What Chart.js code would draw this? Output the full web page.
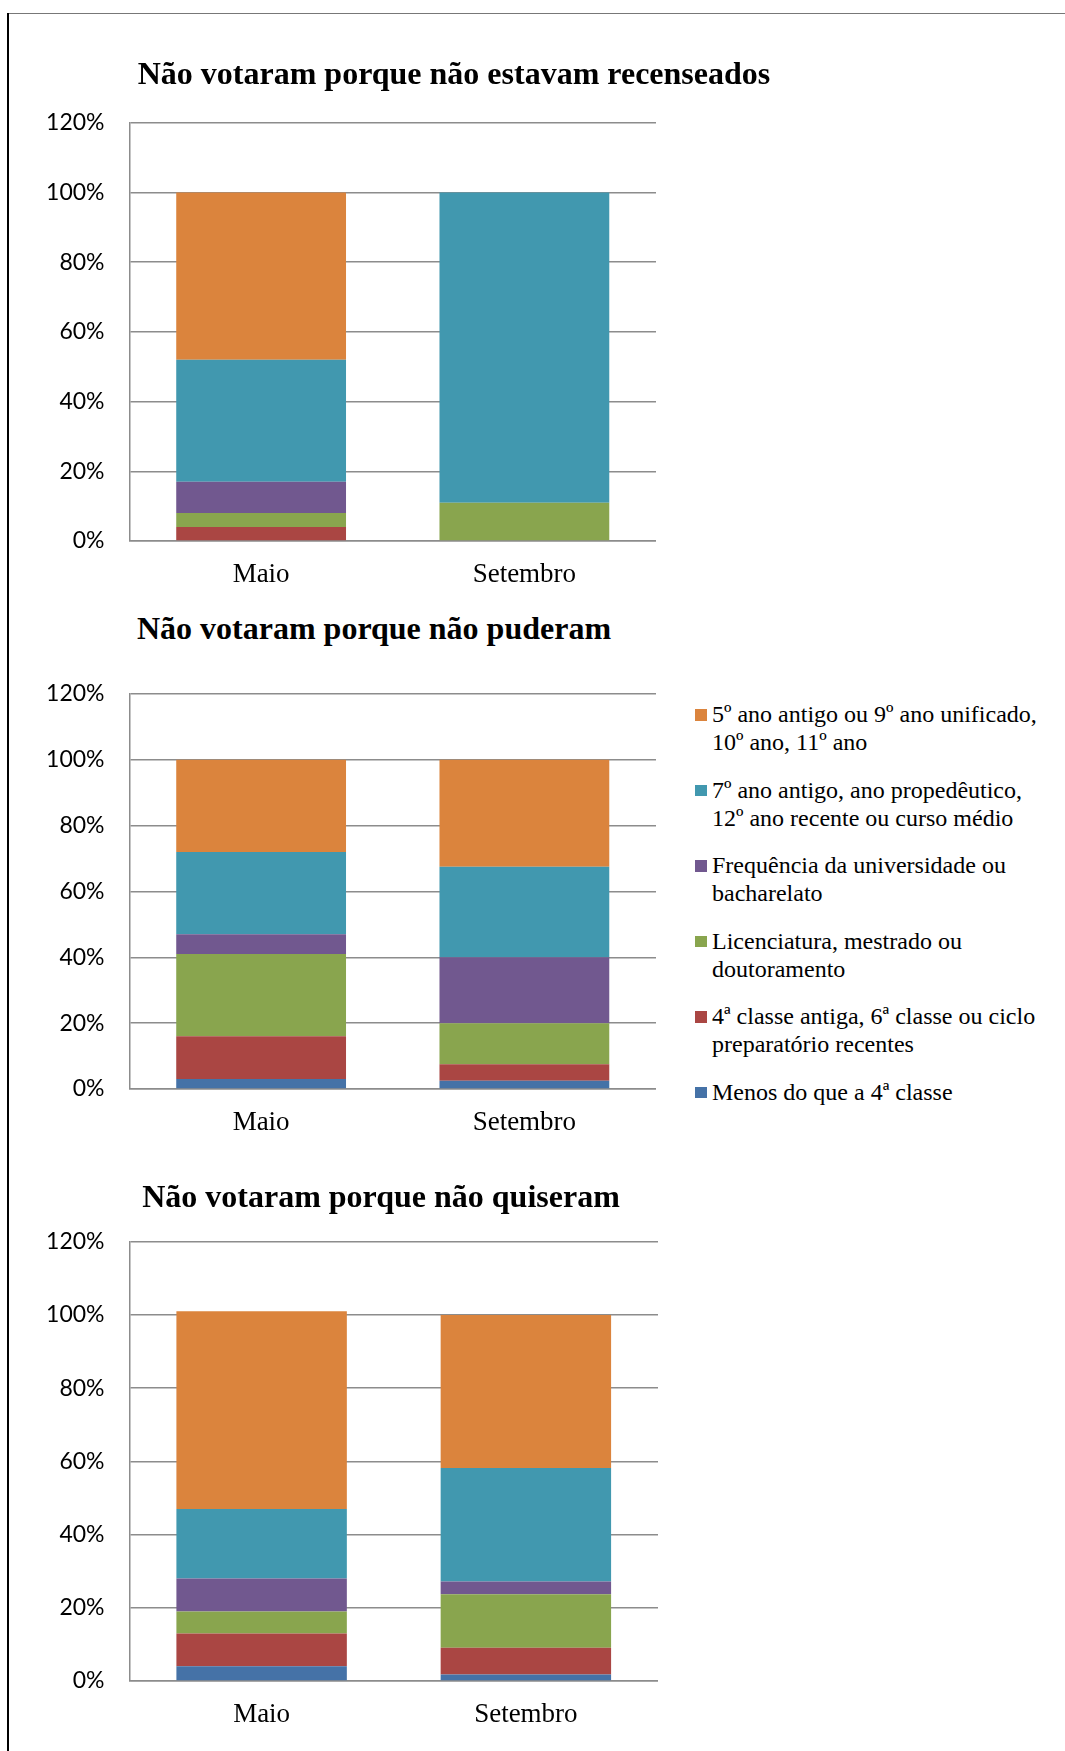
<!DOCTYPE html>
<html>
<head>
<meta charset="utf-8">
<script src="https://cdn.jsdelivr.net/npm/chart.js@4"></script>
<style>
  html, body { margin: 0; padding: 0; background: #fff; }
  body { width: 1065px; height: 1751px; position: relative; overflow: hidden; }
  .frame-top { position: absolute; left: 8px; top: 13px; width: 1057px; height: 1px; background: #777; z-index: 2; }
  .frame-left { position: absolute; left: 7px; top: 13px; width: 2px; height: 1738px; background: #000; z-index: 2; }
  canvas { position: absolute; left: 0; }
  .title {
    position: absolute; white-space: nowrap; transform: translate(-50%, -50%);
    font-family: "Liberation Serif", "Times New Roman", serif; font-weight: bold; font-size: 32px;
    color: #000; z-index: 1;
  }
  #legend { position: absolute; left: 695px; top: 700px; font-family: "Liberation Serif", serif; font-size: 24px; color: #000; }
  .item { position: relative; padding-left: 17px; line-height: 28px; white-space: pre-line; margin-bottom: 19.5px; }
  .item i { position: absolute; left: 0; top: 9px; width: 11.5px; height: 11.5px; }
</style>
</head>
<body>
<div class="frame-top"></div>
<div class="frame-left"></div>

<div class="title" style="left:454px; top:73px">Não votaram porque não estavam recenseados</div>
<canvas id="c1" width="656" height="517" style="top:84px"></canvas>

<div class="title" style="left:374px; top:628px">Não votaram porque não puderam</div>
<canvas id="c2" width="656" height="494" style="top:655px"></canvas>

<div class="title" style="left:381px; top:1196px">Não votaram porque não quiseram</div>
<canvas id="c3" width="658" height="538" style="top:1203px"></canvas>

<div id="legend"></div>

<script>
// categories and series (bottom of the stack first)
const categories = ["Maio", "Setembro"];
const seriesNames = [
  "Menos do que a 4ª classe",
  "4ª classe antiga, 6ª classe ou ciclo\npreparatório recentes",
  "Licenciatura, mestrado ou\ndoutoramento",
  "Frequência da universidade ou\nbacharelato",
  "7º ano antigo, ano propedêutico,\n12º ano recente ou curso médio",
  "5º ano antigo ou 9º ano unificado,\n10º ano, 11º ano"
];
const seriesColors = ["#4572A7", "#AA4643", "#89A54E", "#71588F", "#4198AF", "#DB843D"];
const yTicks = [0, 20, 40, 60, 80, 100, 120];

// percentages per series, same order as seriesNames
const recenseadosMaio = [0, 4, 4, 9, 35, 48];
const recenseadosSetembro = [0, 0, 11, 0, 89, 0];
const puderamMaio = [3, 13, 25, 6, 25, 28];
const puderamSetembro = [2.5, 5, 12.5, 20, 27.5, 32.5];
const quiseramMaio = [4, 9, 6, 9, 19, 54];
const quiseramSetembro = [1.8, 7.3, 14.6, 3.5, 31, 41.8];

const GRID = "#8c8c8c";

function makeChart(id, maio, setembro) {
  const datasets = seriesNames.map((name, i) => ({
    label: name,
    data: [maio[i], setembro[i]],
    backgroundColor: seriesColors[i],
    borderWidth: 0,
    categoryPercentage: 1,
    barPercentage: 0.645
  }));
  return new Chart(document.getElementById(id), {
    type: "bar",
    data: { labels: categories, datasets },
    options: {
      responsive: false,
      animation: false,
      layout: { padding: 0 },
      plugins: { legend: { display: false }, tooltip: { enabled: false }, title: { display: false } },
      scales: {
        x: {
          stacked: true,
          grid: { display: false, drawTicks: false },
          border: { display: true, color: GRID, width: 1.5 },
          ticks: { color: "#000", padding: 18, font: { family: "'Liberation Serif', serif", size: 27 } },
          afterFit: s => { s.height = 60; }
        },
        y: {
          stacked: true,
          min: 0,
          max: 120,
          afterBuildTicks: s => { s.ticks = yTicks.map(v => ({ value: v })); },
          grid: { color: GRID, lineWidth: 1.5, drawTicks: false },
          border: { display: true, color: GRID, width: 1.5 },
          ticks: { color: "#000", padding: 25, font: { family: "Lato, sans-serif", size: 23 }, callback: v => v + "%" },
          afterFit: s => { s.width = 129.5; }
        }
      }
    }
  });
}

makeChart("c1", recenseadosMaio, recenseadosSetembro);
makeChart("c2", puderamMaio, puderamSetembro);
makeChart("c3", quiseramMaio, quiseramSetembro);

// legend, top of the stack first
const legend = document.getElementById("legend");
for (let i = seriesNames.length - 1; i >= 0; i--) {
  const item = document.createElement("div");
  item.className = "item";
  const sw = document.createElement("i");
  sw.style.background = seriesColors[i];
  item.appendChild(sw);
  item.appendChild(document.createTextNode(seriesNames[i]));
  legend.appendChild(item);
}
</script>
</body>
</html>
